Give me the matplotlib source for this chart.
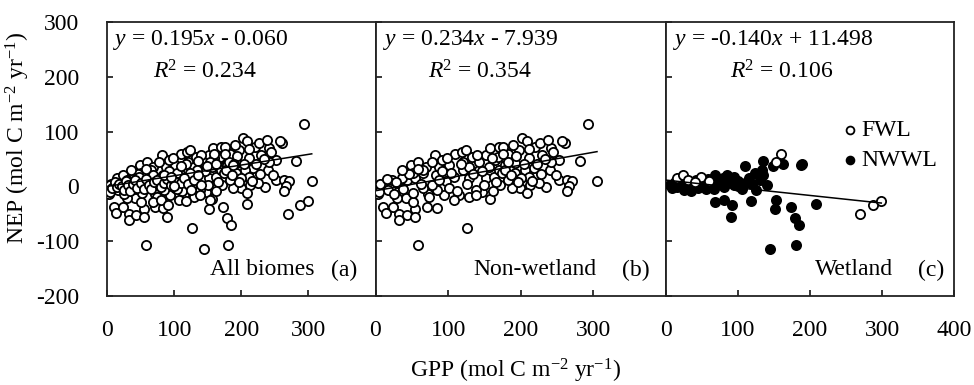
import matplotlib
matplotlib.use('Agg')
import matplotlib.pyplot as plt
import numpy as np

plt.rcParams['font.family'] = ['Liberation Serif', 'DejaVu Serif']
plt.rcParams['mathtext.fontset'] = 'custom'
plt.rcParams['mathtext.rm'] = 'Liberation Serif'
plt.rcParams['mathtext.it'] = 'Liberation Serif:italic'

# ---------------- data ----------------
nonwet_gpp = [3, 12, 10, 14, 24, 33, 33, 43, 55, 55, 71, 84, 58, 126, 157, 82, 49, 59, 69, 110,
              119, 133, 152, 158, 170, 21, 30, 44, 55, 83, 97, 108, 120, 129, 143, 152, 163, 172, 129, 94,
              115, 72, 42, 51, 30, 147, 138, 101, 85, 65, 78, 88, 101, 92, 120, 143, 129, 156, 165, 170,
              65, 51, 37, 23, 17, 5,
              293, 305, 282, 261, 257, 241, 240, 252, 263, 271, 266, 263, 235, 225, 213, 199, 188, 202, 197, 183,
              220, 229, 252, 241, 211, 192, 179, 218, 206, 192, 174, 211, 183, 169, 190, 208, 176,
              28, 38, 46, 62, 66, 74, 88, 92, 104, 112, 118, 126, 134, 140, 146, 150, 160, 166, 178, 182,
              186, 194, 200, 204, 212, 216, 222, 228, 234, 244, 248, 6, 16, 26, 36, 52, 58, 78, 98, 108,
              124, 138, 162, 176, 196, 208, 226, 238]
nonwet_nep = [-13, 3, -37, -49, -38, -51, -61, -52, -42, -55, -38, -40, -107, -75, -23, 57, 39, 45, 36, 60,
              62, 54, 57, 70, 72, 0, 6, 12, 15, 21, 9, 18, 30, 15, 30, 15, 18, 3, -19, -16,
              -16, -13, -22, -28, -22, -10, -7, -3, -7, -3, 3, 36, 39, 48, 45, 45, 36, 36, 48, 30,
              24, 24, 15, 12, -7, -10,
              114, 10, 47, 79, 83, 70, 30, 12, 12, 10, 1, -8, -2, 6, 3, -3, -3, 88, 66, 60,
              72, 57, 48, 45, 51, 42, 39, 33, 30, 24, 24, 18, 12, 54, 76, 82, 72,
              8, -5, 22, 5, 30, -20, 12, 28, 25, -8, 40, 5, 22, 58, 28, 2, 52, 8, 30, 45,
              20, 55, 15, 40, 68, 10, 40, 22, 50, 62, 20, 5, 14, -14, 30, -12, 32, 44, 52, -25,
              66, -15, -8, 60, 8, -12, 80, 84]

fwl_gpp = [15, 24, 30, 48, 40, 60, 160, 153, 269, 288, 299]
fwl_nep = [15, 21, 12, 17, 8, 10, 59, 45, -50, -34, -26]

nwwl_gpp = [189, 110, 135, 149, 163, 134, 123, 68, 79, 68, 81, 91, 90, 118, 153, 152, 173, 179, 185, 208,
            144, 181, 188,
            5, 8, 12, 15, 18, 22, 25, 28, 32, 35, 38, 42, 45, 50, 55, 58, 62, 66, 70, 75,
            80, 85, 90, 95, 100, 105, 110, 115, 120, 125, 130, 135, 140, 85, 95, 100]
nwwl_nep = [41, 38, 47, 38, 41, 30, 24, 21, 15, -28, -24, -34, -55, -26, -24, -41, -37, -58, -70, -32,
            -114, -107, 39,
            3, -3, 8, -2, 5, 0, -6, 10, 2, -8, 4, 12, -3, 6, -5, 14, 2, -4, 8, 12,
            -2, 6, 14, 2, 10, -4, 6, 16, 4, -6, 12, 20, 2, 20, 18, 0]

all_gpp = nonwet_gpp + fwl_gpp + nwwl_gpp
all_nep = nonwet_nep + fwl_nep + nwwl_nep

fit_a = (0.195, -0.060)
fit_b = (0.234, -7.939)
fit_c = (-0.140, 11.498)

eq_a = ("$y$ = 0.195$x$ - 0.060", "$R$$^2$ = 0.234")
eq_b = ("$y$ = 0.234$x$ - 7.939", "$R$$^2$ = 0.354")
eq_c = ("$y$ = -0.140$x$ + 11.498", "$R$$^2$ = 0.106")

x_ticks = [0, 100, 200, 300, 400]
y_ticks = [-200, -100, 0, 100, 200, 300]

# ---------------- layout ----------------
W, H = 974, 385
fig = plt.figure(figsize=(W / 100, H / 100), dpi=100)


def axes_px(x0, x1, y0, y1):
    return fig.add_axes([x0 / W, 1 - y1 / H, (x1 - x0) / W, (y1 - y0) / H])


ax_a = axes_px(107, 375.5, 22, 296)
ax_b = axes_px(375.5, 666, 22, 296)
ax_c = axes_px(666, 954, 22, 296)

FS = 17
ms = 44
ew = 1.3

for ax in (ax_a, ax_b, ax_c):
    ax.set_xlim(0, 400)
    ax.set_ylim(-200, 300)
    ax.set_xticks(x_ticks)
    ax.set_yticks(y_ticks)
    ax.tick_params(direction='in', length=4, width=1.1, labelsize=FS, pad=17)
    for s in ax.spines.values():
        s.set_linewidth(1.3)
        s.set_color('#222222')

ax_a.set_xticklabels(['0', '100', '200', '300', ''])
ax_b.set_xticklabels(['0', '100', '200', '300', ''])
ax_c.set_xticklabels(['0', '100', '200', '300', '400'])
ax_a.set_yticklabels([str(v) for v in y_ticks])
ax_a.tick_params(axis='y', pad=20)
ax_b.set_yticklabels([])
ax_c.set_yticklabels([])

# scatter
ax_a.scatter(all_gpp, all_nep, s=ms, facecolors='white', edgecolors='black', linewidths=ew, zorder=3)
ax_b.scatter(nonwet_gpp, nonwet_nep, s=ms, facecolors='white', edgecolors='black', linewidths=ew, zorder=3)
ax_c.scatter(nwwl_gpp, nwwl_nep, s=ms, facecolors='black', edgecolors='black', linewidths=ew, zorder=3,
             label='NWWL')
ax_c.scatter(fwl_gpp, fwl_nep, s=ms, facecolors='white', edgecolors='black', linewidths=ew, zorder=4,
             label='FWL')

# regression lines
for ax, fit, gx in ((ax_a, fit_a, all_gpp), (ax_b, fit_b, nonwet_gpp), (ax_c, fit_c, fwl_gpp + nwwl_gpp)):
    xs = np.array([0, max(gx)])
    ax.plot(xs, fit[0] * xs + fit[1], color='black', lw=1.1, zorder=5)

# equations
for ax, eq, dx1, dx2 in ((ax_a, eq_a, 0.022, 0.17), (ax_b, eq_b, 0.026, 0.18), (ax_c, eq_c, 0.024, 0.222)):
    ax.text(dx1, 0.934, eq[0], transform=ax.transAxes, fontsize=FS, va='center', ha='left')
    ax.text(dx2, 0.818, eq[1], transform=ax.transAxes, fontsize=FS, va='center', ha='left')

# panel names
ax_a.text(0.385, 0.095, 'All biomes', transform=ax_a.transAxes, fontsize=FS, va='center', ha='left')
ax_a.text(0.836, 0.095, '(a)', transform=ax_a.transAxes, fontsize=FS, va='center', ha='left')
ax_b.text(0.336, 0.095, 'Non-wetland', transform=ax_b.transAxes, fontsize=FS, va='center', ha='left')
ax_b.text(0.85, 0.095, '(b)', transform=ax_b.transAxes, fontsize=FS, va='center', ha='left')
ax_c.text(0.517, 0.095, 'Wetland', transform=ax_c.transAxes, fontsize=FS, va='center', ha='left')
ax_c.text(0.875, 0.095, '(c)', transform=ax_c.transAxes, fontsize=FS, va='center', ha='left')

# legend
h, l = ax_c.get_legend_handles_labels()
leg = ax_c.legend(h[::-1], l[::-1], loc='center left', bbox_to_anchor=(0.54, 0.55), frameon=False,
                  fontsize=FS, handlelength=1.0, handletextpad=0.0, labelspacing=0.35,
                  markerscale=0.85, borderpad=0.2)

fig.text(18 / W, 1 - 138 / H, 'NEP (mol C m$^{-2}$ yr$^{-1}$)', rotation=90, fontsize=FS,
         ha='center', va='center')
fig.text(515 / W, 1 - 371 / H, 'GPP (mol C m$^{-2}$ yr$^{-1}$)', fontsize=FS, ha='center', va='center')

fig.savefig('out.png', dpi=100)
